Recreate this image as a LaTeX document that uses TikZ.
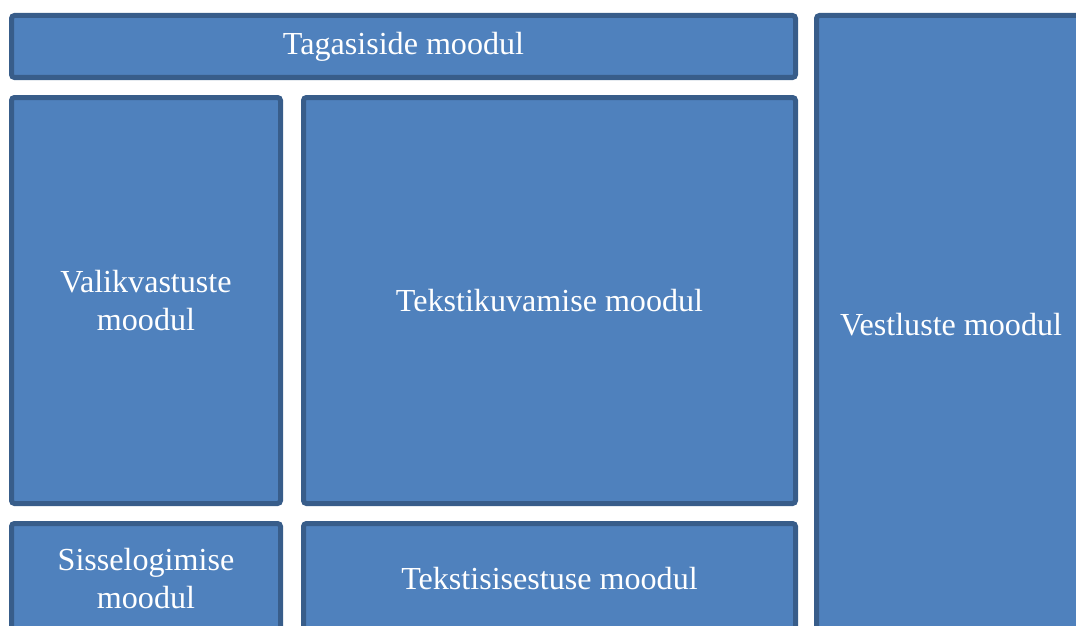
\documentclass[tikz,border=0pt]{standalone}
\usepackage{fontspec}
\setmainfont{Liberation Serif}
\definecolor{boxfill}{HTML}{4F81BD}
\definecolor{boxline}{HTML}{385D8A}
\tikzset{
  modbox/.style={draw=boxline, fill=boxfill, line width=5pt, rounded corners=3pt,
    inner sep=0pt, outer sep=0pt, text=white, align=center,
    font=\fontsize{32.1}{37.5}\selectfont}
}
\begin{document}
\begin{tikzpicture}[x=1pt,y=-1pt]
\useasboundingbox (0,0) rectangle (1076,626);
\clip (0,0) rectangle (1076,626);
\node[modbox, minimum width=784pt, minimum height=62pt] (tagasiside) at (403.5,46.5) {\raisebox{-2pt}{Tagasiside moodul}};
\node[modbox, minimum width=269pt, minimum height=406pt] (valik) at (146,300.5) {\raisebox{-2pt}{Valikvastuste}\\\raisebox{-2pt}{moodul}};
\node[modbox, minimum width=492pt, minimum height=406pt] (tekstikuv) at (549.5,300.5) {\raisebox{-1pt}{Tekstikuvamise moodul}};
\node[modbox, minimum width=269pt, minimum height=110pt] (sisse) at (146,578.5) {\raisebox{-1pt}{Sisselogimise}\\\raisebox{-1pt}{moodul}};
\node[modbox, minimum width=492pt, minimum height=110pt] (tekstisis) at (549.5,578.5) {Tekstisisestuse moodul};
\node[modbox, minimum width=269pt, minimum height=619pt] (vestlus) at (951,325) {\raisebox{-1pt}{Vestluste moodul}};
\end{tikzpicture}
\end{document}
